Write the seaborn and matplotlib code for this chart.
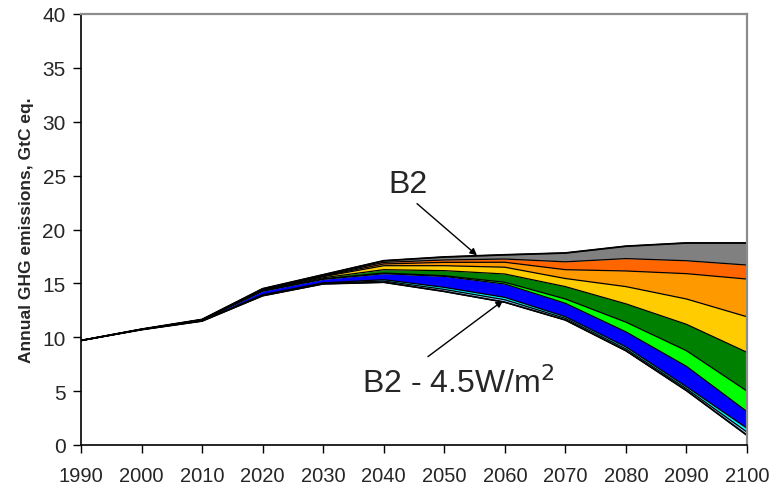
import matplotlib
matplotlib.use("Agg")
import matplotlib.pyplot as plt
import seaborn as sns

# decades on the x axis
years = [1990, 2000, 2010, 2020, 2030, 2040, 2050, 2060, 2070, 2080, 2090, 2100]

# boundary lines of the stacked bands, top (B2 baseline) to bottom (B2 - 4.5W/m2)
b2_top = [9.7, 10.75, 11.65, 14.5, 15.8, 17.1, 17.45, 17.65, 17.82, 18.45, 18.75, 18.75]
gray_bottom = [9.7, 10.75, 11.64, 14.45, 15.72, 16.95, 17.17, 17.26, 17.0, 17.3, 17.1, 16.7]
red_bottom = [9.7, 10.74, 11.63, 14.42, 15.67, 16.8, 16.95, 16.96, 16.27, 16.15, 15.9, 15.4]
orange_bottom = [9.7, 10.74, 11.62, 14.39, 15.62, 16.64, 16.64, 16.5, 15.45, 14.7, 13.55, 11.9]
gold_bottom = [9.7, 10.73, 11.61, 14.36, 15.52, 16.27, 16.18, 15.87, 14.7, 13.1, 11.2, 8.6]
dkgreen_bottom = [9.7, 10.73, 11.6, 14.3, 15.42, 15.96, 15.71, 15.1, 13.55, 11.4, 8.75, 5.0]
green_bottom = [9.7, 10.73, 11.59, 14.28, 15.38, 15.9, 15.65, 14.94, 13.15, 10.5, 7.3, 3.1]
blue_bottom = [9.7, 10.72, 11.54, 13.95, 15.05, 15.34, 14.63, 13.7, 11.9, 9.1, 5.4, 1.55]
cyan_bottom = [9.7, 10.71, 11.52, 13.9, 15.0, 15.22, 14.44, 13.48, 11.75, 8.92, 5.22, 1.2]
b2_45 = [9.7, 10.7, 11.5, 13.85, 14.95, 15.1, 14.25, 13.25, 11.6, 8.75, 5.05, 0.9]

band_colors = ["#808080", "#FF6600", "#FF9900", "#FFCC00", "#008000",
               "#00FF00", "#0000FF", "#00FFFF", "#99CCFF"]

sns.set_theme(style="white")
plt.rcParams['font.family'] = ['Liberation Sans', 'DejaVu Sans']

fig = plt.figure(figsize=(7.7, 4.89), dpi=100)
ax = fig.add_axes([81 / 770, 43 / 489, 666 / 770, 431 / 489])

lines = [b2_top, gray_bottom, red_bottom, orange_bottom, gold_bottom,
         dkgreen_bottom, green_bottom, blue_bottom, cyan_bottom, b2_45]

for upper, lower, col in zip(lines[:-1], lines[1:], band_colors):
    ax.fill_between(years, lower, upper, color=col, linewidth=0)

for ln in lines:
    sns.lineplot(x=years, y=ln, color="black", linewidth=0.9, ax=ax)
# heavier outline for the two scenarios
sns.lineplot(x=years, y=b2_top, color="black", linewidth=1.3, ax=ax)
sns.lineplot(x=years, y=b2_45, color="black", linewidth=1.2, ax=ax)

ax.set_xlim(1990, 2100)
ax.set_ylim(0, 40)
ax.set_xticks(years)
ax.set_yticks(range(0, 41, 5))
ax.tick_params(axis="both", direction="out", length=6, width=1, color="black",
               left=True, bottom=True)
ax.tick_params(axis="x", pad=9, labelsize=14.5)
ax.tick_params(axis="y", pad=5, labelsize=15)

ax.set_ylabel("Annual GHG emissions, GtC eq.", fontsize=12.5, fontweight="bold", labelpad=6)
ax.set_xlabel("")

for side in ["left", "bottom"]:
    ax.spines[side].set_color("black")
    ax.spines[side].set_linewidth(1.2)
for side in ["top", "right"]:
    ax.spines[side].set_color("#8c8c8c")
    ax.spines[side].set_linewidth(1.6)
ax.grid(False)

ax.text(2044, 24.2, "B2", fontsize=23, ha="center", va="center")
ax.annotate("", xy=(2055.4, 17.6), xytext=(2045.5, 22.4),
            arrowprops=dict(arrowstyle="-|>", color="black", lw=1, shrinkA=0, shrinkB=0,
                            mutation_scale=10))
ax.text(2036.4, 5.8, "B2 - 4.5W/m$^2$", fontsize=23, ha="left", va="center")
ax.annotate("", xy=(2059.7, 13.4), xytext=(2047.3, 8.2),
            arrowprops=dict(arrowstyle="-|>", color="black", lw=1, shrinkA=0, shrinkB=0,
                            mutation_scale=10))

fig.savefig("out.png", dpi=100)
